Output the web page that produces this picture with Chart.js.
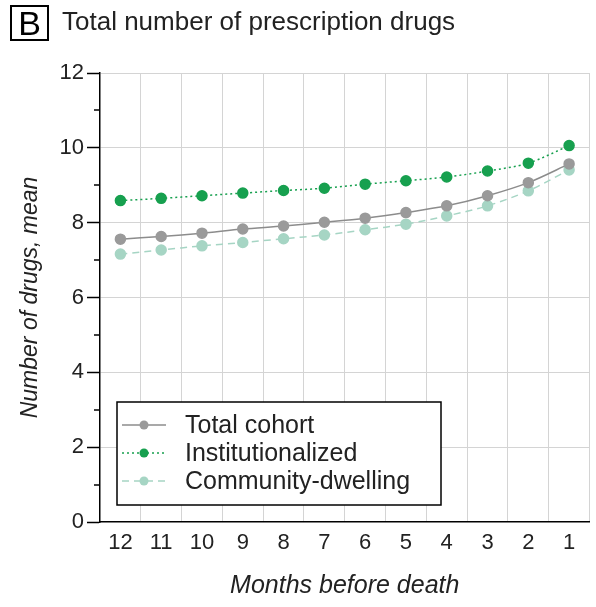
<!DOCTYPE html>
<html>
<head>
<meta charset="utf-8">
<script src="https://cdn.jsdelivr.net/npm/chart.js@4.4.1/dist/chart.umd.min.js"></script>
<style>
  body { margin: 0; background: #fff; }
  #wrap { position: relative; width: 596px; height: 607px; }
  #letter {
    position: absolute; left: 10px; top: 5px; width: 35px; height: 32px;
    border: 2px solid #000; font: 34px "Liberation Sans", Arial, sans-serif;
    line-height: 33px; text-align: center; color: #000;
  }
  #title {
    position: absolute; left: 62px; top: 6px;
    font: 26px "Liberation Sans", Arial, sans-serif; color: #222;
  }
  canvas { position: absolute; left: 0; top: 0; }
</style>
</head>
<body>
<div id="wrap">
  <canvas id="myChart" width="596" height="607"></canvas>
  <div id="letter">B</div>
  <div id="title">Total number of prescription drugs</div>
</div>
<script>
const months = ['12', '11', '10', '9', '8', '7', '6', '5', '4', '3', '2', '1'];
const totalCohort = [7.56, 7.63, 7.72, 7.83, 7.91, 8.01, 8.12, 8.27, 8.45, 8.72, 9.07, 9.57];
const institutionalized = [8.59, 8.65, 8.72, 8.79, 8.86, 8.92, 9.03, 9.12, 9.22, 9.38, 9.59, 10.06];
const communityDwelling = [7.16, 7.27, 7.38, 7.47, 7.57, 7.67, 7.81, 7.96, 8.18, 8.45, 8.85, 9.41];
const seriesNames = ['Total cohort', 'Institutionalized', 'Community-dwelling'];

const font = '"Liberation Sans", Arial, sans-serif';
const textColor = '#222';

// legend box drawn by hand so the sample keeps the line dash + marker
const boxLegend = {
    id: 'boxLegend',
    afterDatasetsDraw(chart) {
        const ctx = chart.ctx;
        ctx.save();
        ctx.fillStyle = '#fff';
        ctx.fillRect(117, 402, 324, 103);
        ctx.strokeStyle = '#000';
        ctx.lineWidth = 1.5;
        ctx.strokeRect(117, 402, 324, 103);
        const rows = [425, 453, 481];
        chart.data.datasets.forEach((ds, i) => {
            const y = rows[i];
            ctx.strokeStyle = ds.borderColor;
            ctx.lineWidth = ds.borderWidth;
            ctx.setLineDash(ds.borderDash || []);
            ctx.beginPath();
            ctx.moveTo(122, y);
            ctx.lineTo(166, y);
            ctx.stroke();
            ctx.setLineDash([]);
            ctx.fillStyle = ds.pointBackgroundColor;
            ctx.beginPath();
            ctx.arc(144, y, 4.5, 0, Math.PI * 2);
            ctx.fill();
            ctx.fillStyle = textColor;
            ctx.font = '25px ' + font;
            ctx.textBaseline = 'middle';
            ctx.fillText(ds.label, 185, y + 1);
        });
        ctx.restore();
    }
};

// short minor ticks at the odd values of the y axis
const minorTicks = {
    id: 'minorTicks',
    afterDraw(chart) {
        const ctx = chart.ctx;
        const y = chart.scales.y;
        ctx.save();
        ctx.strokeStyle = '#000';
        ctx.lineWidth = 1.5;
        for (let v = 1; v < 12; v += 2) {
            const py = Math.round(y.getPixelForValue(v));
            ctx.beginPath();
            ctx.moveTo(94, py);
            ctx.lineTo(100, py);
            ctx.stroke();
        }
        ctx.restore();
    }
};

const ctx = document.getElementById('myChart').getContext('2d');
const myChart = new Chart(ctx, {
    type: 'line',
    data: {
        labels: months,
        datasets: [{
            label: seriesNames[0],
            data: totalCohort,
            borderColor: '#8c8c8c',
            borderWidth: 1.5,
            pointBackgroundColor: '#9a9a9a',
            pointBorderColor: '#9a9a9a',
            pointRadius: 5,
            tension: 0.3,
            order: 2
        }, {
            label: seriesNames[1],
            data: institutionalized,
            borderColor: '#17a04f',
            borderWidth: 1.5,
            borderDash: [2, 3],
            pointBackgroundColor: '#17a04f',
            pointBorderColor: '#17a04f',
            pointRadius: 5,
            tension: 0.3,
            order: 1
        }, {
            label: seriesNames[2],
            data: communityDwelling,
            borderColor: '#a6d5c4',
            borderWidth: 1.5,
            borderDash: [7, 5],
            pointBackgroundColor: '#a6d5c4',
            pointBorderColor: '#a6d5c4',
            pointRadius: 5,
            tension: 0.3,
            order: 3
        }]
    },
    options: {
        responsive: false,
        animation: false,
        layout: { padding: { top: 73, right: 4, left: 0, bottom: 0 } },
        plugins: {
            legend: { display: false },
            tooltip: { enabled: false }
        },
        scales: {
            x: {
                offset: true,
                afterFit: function(scale) { scale.height = 85; },
                border: { color: '#000', width: 1.5 },
                grid: {
                    offset: true,
                    drawTicks: false,
                    color: function(c) {
                        return (c.index === 0 || c.index === months.length) ? 'rgba(0,0,0,0)' : '#d4d4d4';
                    }
                },
                ticks: {
                    color: textColor,
                    padding: 8,
                    font: { family: font, size: 22 }
                },
                title: {
                    display: true,
                    text: 'Months before death',
                    color: textColor,
                    padding: { top: 0, bottom: 6 },
                    font: { family: font, size: 25, style: 'italic' }
                }
            },
            y: {
                min: 0,
                max: 12,
                afterFit: function(scale) { scale.width = 100; },
                border: { color: '#000', width: 1.5 },
                grid: {
                    tickLength: 13,
                    tickWidth: 1.5,
                    color: function(c) {
                        const v = c.tick ? c.tick.value : 0;
                        return (v === 0 || v % 2 === 1) ? 'rgba(0,0,0,0)' : '#d4d4d4';
                    },
                    tickColor: function(c) {
                        const v = c.tick ? c.tick.value : 0;
                        return v % 2 === 1 ? 'rgba(0,0,0,0)' : '#000';
                    }
                },
                ticks: {
                    stepSize: 1,
                    autoSkip: false,
                    color: textColor,
                    padding: 3,
                    font: { family: font, size: 22 },
                    callback: function(value) { return value % 2 === 0 ? value : ''; }
                },
                title: {
                    display: true,
                    text: 'Number of drugs, mean',
                    color: textColor,
                    padding: { top: 17, bottom: 0 },
                    font: { family: font, size: 23, style: 'italic' }
                }
            }
        }
    },
    plugins: [boxLegend, minorTicks]
});
</script>
</body>
</html>
